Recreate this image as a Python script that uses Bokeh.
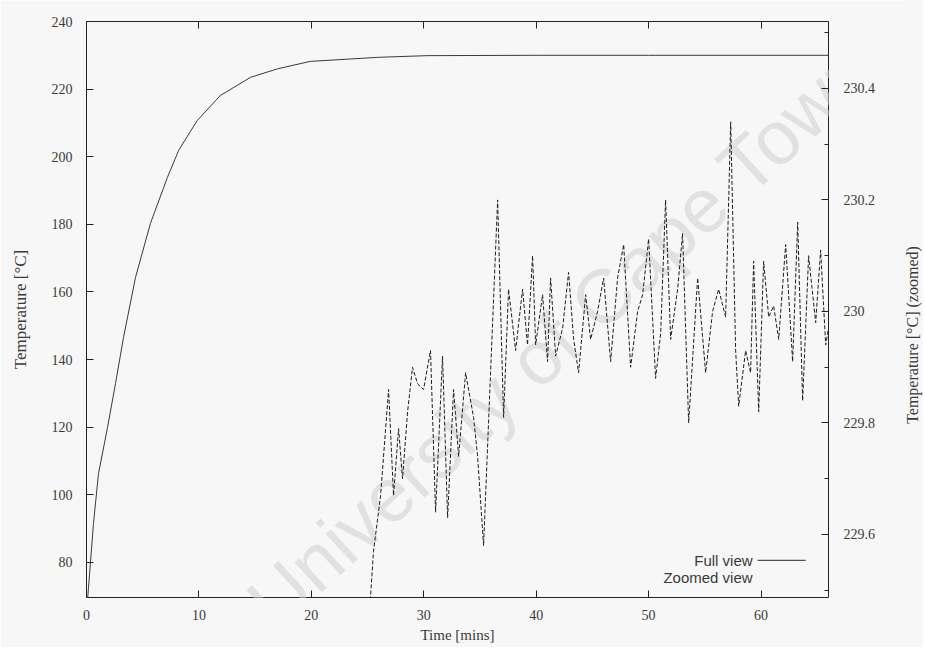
import math
from bokeh.plotting import figure
from bokeh.layouts import row
from bokeh.models import Range1d, LinearAxis, FixedTicker, Label, Div
from bokeh.embed import file_html
from bokeh.resources import INLINE

# ---------------- data ----------------
x_ticks = [0, 10, 20, 30, 40, 50, 60]
left_ticks = [80, 100, 120, 140, 160, 180, 200, 220, 240]
right_ticks = [229.6, 229.8, 230.0, 230.2, 230.4]
right_minor = [229.5, 229.7, 229.9, 230.1, 230.3, 230.5]

# Full view (left axis, deg C) vs time (mins)
t_full = [0.0, 0.18, 0.62, 1.07, 1.87, 2.58, 3.29, 4.36, 5.69, 7.2, 8.2, 9.85,
          11.9, 14.6, 17.0, 19.9, 25.9, 30.3, 40.0, 50.0, 60.0, 66.0]
T_full = [65.0, 72.6, 91.5, 106.3, 119.9, 132.9, 146.5, 164.3, 180.3, 193.9, 201.9, 210.7,
          218.1, 223.5, 226.0, 228.2, 229.4, 229.9, 230.0, 230.0, 230.0, 230.0]

# Zoomed view (right axis, deg C) vs time (mins)
t_zoom = [25.0, 25.27, 25.53, 26.16, 26.87, 27.31, 27.76, 28.11, 28.56, 29.0, 29.45, 29.98,
          30.6, 31.05, 31.67, 32.12, 32.65, 33.1, 33.72, 34.43, 34.79, 35.32, 35.94, 36.57,
          37.1, 37.54, 38.17, 38.79, 39.23, 39.68, 39.95, 40.57, 41.01, 41.28, 41.73, 42.35,
          42.88, 43.33, 43.77, 44.4, 44.84, 45.46, 46.0, 46.62, 47.24, 47.78, 48.4, 49.02,
          49.47, 50.0, 50.62, 51.07, 51.51, 51.96, 52.58, 53.02, 53.56, 54.36, 55.07, 55.69,
          56.23, 56.85, 57.3, 57.74, 58.01, 58.63, 59.07, 59.34, 59.79, 60.23, 60.68, 61.12,
          61.57, 62.19, 62.81, 63.26, 63.7, 64.23, 64.86, 65.3, 65.75, 66.0]
T_zoom = [229.45, 229.49, 229.57, 229.67, 229.86, 229.67, 229.79, 229.70, 229.82, 229.90, 229.87, 229.86,
          229.93, 229.64, 229.92, 229.63, 229.86, 229.74, 229.89, 229.81, 229.74, 229.58, 229.89, 230.20,
          229.81, 230.04, 229.93, 230.04, 229.94, 230.10, 229.94, 230.03, 229.91, 230.06, 229.92, 229.97,
          230.07, 229.95, 229.89, 230.03, 229.95, 230.00, 230.06, 229.91, 230.06, 230.12, 229.90, 230.00,
          230.03, 230.13, 229.88, 229.96, 230.20, 229.95, 230.04, 230.14, 229.80, 230.06, 229.89, 230.00,
          230.04, 229.99, 230.34, 229.93, 229.83, 229.93, 229.89, 230.09, 229.82, 230.09, 229.99, 230.01,
          229.95, 230.12, 229.91, 230.16, 229.84, 230.10, 229.98, 230.11, 229.94, 229.97]

# ---------------- figure ----------------
SERIF = "Liberation Serif"
TXT = "#3a3a3a"
BG = "#f7f7f7"

p = figure(width=903, height=647, output_backend="svg", toolbar_location=None,
           x_range=Range1d(0, 66), y_range=Range1d(69.6, 240),
           min_border_left=86, min_border_right=75, min_border_top=21, min_border_bottom=50)
p.extra_y_ranges = {"zoom": Range1d(229.487, 230.52)}
p.grid.visible = False
p.background_fill_color = BG
p.border_fill_color = BG
p.outline_line_color = "#222222"
p.outline_line_width = 1

# watermark of the scan
p.add_layout(Label(x=42.2, y=147.1, text="University of Cape Town", angle=math.radians(42.7),
                   text_align="center", text_baseline="middle", text_font="Liberation Sans",
                   text_font_size="76px", text_color="#e1e1e1", level="underlay"))

def style_axis(ax):
    ax.axis_line_color = None
    ax.major_tick_line_color = "#222222"
    ax.minor_tick_line_color = "#222222"
    ax.major_tick_in = 7
    ax.major_tick_out = 0
    ax.minor_tick_in = 4
    ax.minor_tick_out = 0
    ax.major_label_text_font = SERIF
    ax.major_label_text_font_size = "14px"
    ax.major_label_text_color = TXT
    ax.axis_label_text_font = SERIF
    ax.axis_label_text_font_size = "15px"
    ax.axis_label_text_font_style = "normal"
    ax.axis_label_text_color = TXT

xa = p.xaxis[0]
xa.ticker = FixedTicker(ticks=x_ticks, minor_ticks=[])
xa.axis_label = "Time [mins]"
style_axis(xa)
xa.major_label_standoff = 12
xa.axis_label_standoff = 4

ya = p.yaxis[0]
ya.ticker = FixedTicker(ticks=left_ticks, minor_ticks=[])
ya.axis_label = "Temperature [°C]"
style_axis(ya)
ya.axis_label_text_font_size = "17px"
ya.major_label_standoff = 14
ya.axis_label_standoff = 19

top = LinearAxis(ticker=FixedTicker(ticks=x_ticks, minor_ticks=[]))
style_axis(top)
top.major_label_text_color = None
top.major_label_text_font_size = "1px"
top.major_label_standoff = 0
p.add_layout(top, "above")

ra = LinearAxis(y_range_name="zoom", ticker=FixedTicker(ticks=right_ticks, minor_ticks=right_minor))
style_axis(ra)
ra.major_label_standoff = 15
ra.major_label_overrides = {229.6: "229.6", 229.8: "229.8", 230.0: "230", 230.2: "230.2", 230.4: "230.4"}
p.add_layout(ra, "right")

# ---------------- data lines ----------------
p.line(t_full, T_full, line_color="#3a3a3a", line_width=1)
p.line(t_zoom, T_zoom, y_range_name="zoom", line_color="#1e1e1e", line_width=1, line_dash="4 2")

# ---------------- legend (gnuplot style: text then sample) ----------------
p.add_layout(Label(x=59.25, y=80.6, text="Full view", text_align="right", text_baseline="middle",
                   text_font="Liberation Sans", text_font_size="15px", text_color=TXT))
p.add_layout(Label(x=59.25, y=75.5, text="Zoomed view", text_align="right", text_baseline="middle",
                   text_font="Liberation Sans", text_font_size="15px", text_color=TXT))
p.segment(x0=[59.7], y0=[80.6], x1=[63.97], y1=[80.6], line_color="#2a2a2a", line_width=1)

# right-hand axis title, reading bottom-to-top as in the reference
right_title = Div(
    text=('<div style="position:absolute; left:-140px; top:325px; width:300px; height:20px; '
          'line-height:20px; text-align:center; white-space:nowrap; transform:rotate(-90deg); '
          "font-family:'Liberation Serif'; font-size:16px; color:#3a3a3a;\">"
          'Temperature [°C] (zoomed)</div>'),
    width=20, height=647, margin=(0, 0, 0, 0),
    styles={"background-color": BG, "position": "relative", "overflow": "visible"})

layout = row(p, right_title, spacing=0)
open("out.html", "w").write(file_html(layout, INLINE))
